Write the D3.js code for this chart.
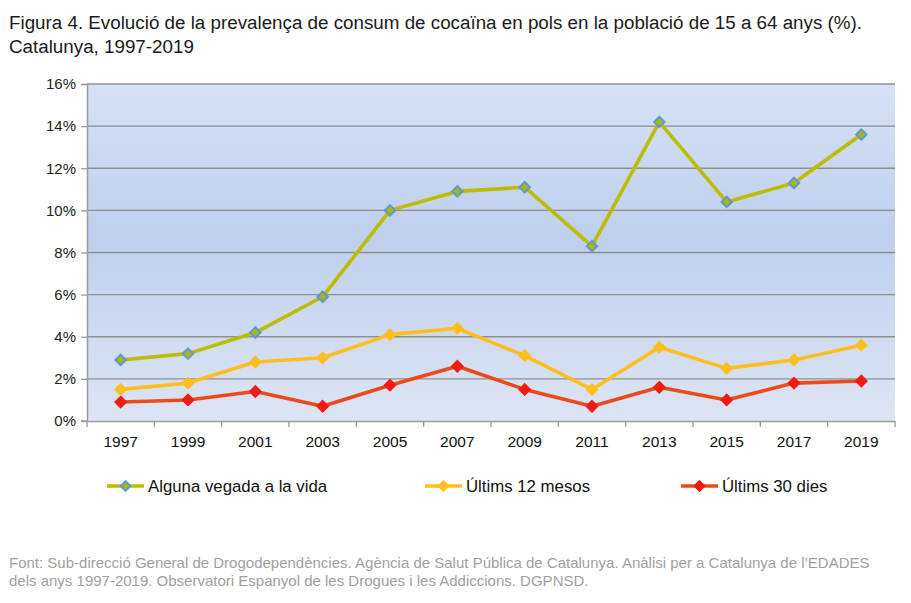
<!DOCTYPE html>
<html>
<head>
<meta charset="utf-8">
<script src="https://cdnjs.cloudflare.com/ajax/libs/d3/7.8.5/d3.min.js"></script>
<style>
  body { margin: 0; background: #fff; }
  svg { display: block; font-family: "Liberation Sans", Arial, sans-serif; }
</style>
</head>
<body>
<svg id="chart" width="911" height="603"></svg>
<script>
// chart values
var years = ["1997", "1999", "2001", "2003", "2005", "2007", "2009", "2011", "2013", "2015", "2017", "2019"];
var alguna_vegada = [2.9, 3.2, 4.2, 5.9, 10.0, 10.9, 11.1, 8.3, 14.2, 10.4, 11.3, 13.6];
var ultims_12_mesos = [1.5, 1.8, 2.8, 3.0, 4.1, 4.4, 3.1, 1.5, 3.5, 2.5, 2.9, 3.6];
var ultims_30_dies = [0.9, 1.0, 1.4, 0.7, 1.7, 2.6, 1.5, 0.7, 1.6, 1.0, 1.8, 1.9];
var y_ticks = [0, 2, 4, 6, 8, 10, 12, 14, 16];

var series = [
  { name: "Alguna vegada a la vida", values: alguna_vegada, line: "#bcbc00", fill: "#b4b400", stroke: "#5b9bd5" },
  { name: "Últims 12 mesos", values: ultims_12_mesos, line: "#ffbf1f", fill: "#ffbf1f", stroke: "#ffbf1f" },
  { name: "Últims 30 dies", values: ultims_30_dies, line: "#ea4a1c", fill: "#f21b12", stroke: "#f21b12" }
];

var svg = d3.select("#chart"),
    margin = { top: 84, left: 87, right: 16, bottom: 182 },
    width = +svg.attr("width") - margin.left - margin.right,
    height = +svg.attr("height") - margin.top - margin.bottom;

// title
var title = svg.append("g").style("font-size", "18.8px").style("fill", "#1a1a1a");
title.append("text").attr("x", 9).attr("y", 29)
  .text("Figura 4. Evolució de la prevalença de consum de cocaïna en pols en la població de 15 a 64 anys (%).");
title.append("text").attr("x", 9).attr("y", 53).text("Catalunya, 1997-2019");

var x = d3.scaleBand().domain(years).range([0, width]);
var y = d3.scaleLinear().domain([0, 16]).range([height, 0]);

var g = svg.append("g").attr("transform", "translate(" + margin.left + "," + margin.top + ")");

// plot background gradient
var grad = svg.append("defs").append("linearGradient")
  .attr("id", "bg").attr("x1", 0).attr("y1", 0).attr("x2", 0).attr("y2", 1);
grad.append("stop").attr("offset", "0%").attr("stop-color", "#d6e1f4");
grad.append("stop").attr("offset", "45%").attr("stop-color", "#bfcfec");
grad.append("stop").attr("offset", "100%").attr("stop-color", "#dde5f4");

g.append("rect").attr("width", width).attr("height", height).attr("fill", "url(#bg)");

// gridlines
g.selectAll(".grid")
  .data(y_ticks.slice(1))
  .enter().append("line")
    .attr("class", "grid")
    .attr("x1", 0).attr("x2", width)
    .attr("y1", function(d) { return y(d); })
    .attr("y2", function(d) { return y(d); })
    .attr("stroke", "#8f8f8f").attr("stroke-width", 1.3);

// y axis
var yAxis = g.append("g")
  .call(d3.axisLeft(y).tickValues(y_ticks).tickSize(6).tickPadding(5).tickFormat(function(d) { return d + "%"; }));
yAxis.select(".domain").attr("stroke", "#9a9a9a").attr("stroke-width", 1.5).attr("d", "M-6,0.5H0.5V" + height + "H-6");
yAxis.selectAll(".tick line").attr("stroke", "#9a9a9a").attr("stroke-width", 1.3);
yAxis.selectAll("text").style("font-size", "15px").style("fill", "#222").attr("font-family", null);

// x axis
var xAxis = g.append("g")
  .attr("transform", "translate(0," + height + ")")
  .call(d3.axisBottom(x).tickSize(0).tickPadding(15));
xAxis.select(".domain").attr("stroke", "#9a9a9a").attr("stroke-width", 1.5);
xAxis.selectAll("text").style("font-size", "15.5px").style("fill", "#111").attr("font-family", null);

// x tick marks on band boundaries
g.append("g").selectAll("line")
  .data(years.concat(["end"]))
  .enter().append("line")
    .attr("x1", function(d, i) { return i * x.bandwidth(); })
    .attr("x2", function(d, i) { return i * x.bandwidth(); })
    .attr("y1", height).attr("y2", height + 6)
    .attr("stroke", "#9a9a9a").attr("stroke-width", 1.3);

var line = d3.line()
  .x(function(d, i) { return x(years[i]) + x.bandwidth() / 2; })
  .y(function(d) { return y(d); });

var diamond = d3.symbol().type(d3.symbolDiamond2);

// draw series from back to front
series.slice().reverse().forEach(function(s) {
  g.append("path")
    .datum(s.values)
    .attr("d", line)
    .attr("fill", "none")
    .attr("stroke", s.line)
    .attr("stroke-width", 3.6)
    .attr("stroke-linejoin", "round");

  g.selectAll(null)
    .data(s.values)
    .enter().append("path")
      .attr("transform", function(d, i) { return "translate(" + (x(years[i]) + x.bandwidth() / 2) + "," + y(d) + ")"; })
      .attr("d", diamond.size(70))
      .attr("fill", s.fill)
      .attr("stroke", s.stroke)
      .attr("stroke-width", 2);
});

// legend
var legendX = [107, 425, 681];
var legend = svg.append("g").attr("transform", "translate(0,486)");
series.forEach(function(s, i) {
  var lg = legend.append("g").attr("transform", "translate(" + legendX[i] + ",0)");
  lg.append("line").attr("x1", 0).attr("x2", 37).attr("y1", 0).attr("y2", 0)
    .attr("stroke", s.line).attr("stroke-width", 3.6);
  lg.append("path").attr("transform", "translate(18.5,0)")
    .attr("d", diamond.size(60))
    .attr("fill", s.fill).attr("stroke", s.stroke).attr("stroke-width", 2);
  lg.append("text").attr("x", 41).attr("y", 6)
    .style("font-size", "16.8px").style("fill", "#111")
    .text(s.name);
});

// source note
var note = svg.append("g").style("font-size", "15px").style("fill", "#a0a0a0");
note.append("text").attr("x", 9).attr("y", 568)
  .text("Font: Sub-direcció General de Drogodependències. Agència de Salut Pública de Catalunya. Anàlisi per a Catalunya de l’EDADES");
note.append("text").attr("x", 9).attr("y", 586)
  .text("dels anys 1997-2019. Observatori Espanyol de les Drogues i les Addiccions. DGPNSD.");
</script>
</body>
</html>
